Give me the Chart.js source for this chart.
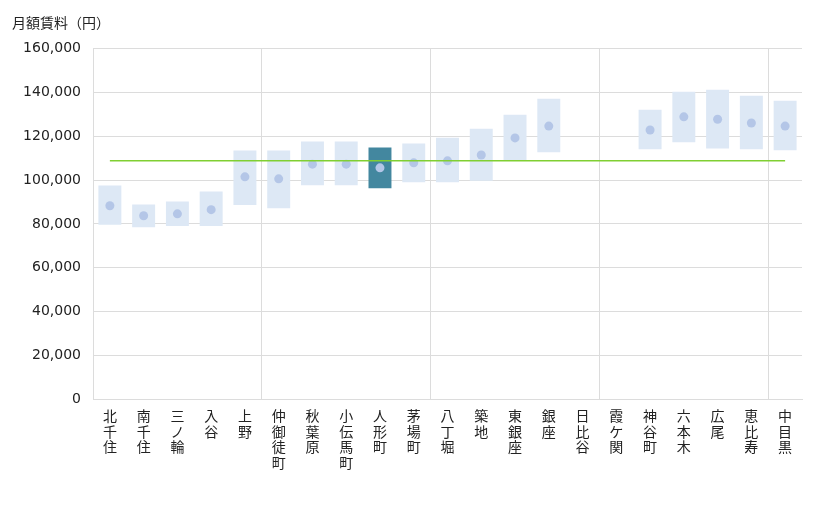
<!DOCTYPE html>
<html>
<head>
<meta charset="utf-8">
<script src="https://cdn.jsdelivr.net/npm/chart.js@4"></script>
<style>
    html, body { margin: 0; padding: 0; background: #fff; }
    #wrap { width: 820px; height: 510px; position: relative; }
</style>
</head>
<body>
<div id="wrap"><canvas id="rentChart"></canvas></div>
<script>

/// DATA ///

const stations = ['北千住', '南千住', '三ノ輪', '入谷', '上野', '仲御徒町', '秋葉原', '小伝馬町', '人形町', '茅場町',
    '八丁堀', '築地', '東銀座', '銀座', '日比谷', '霞ケ関', '神谷町', '六本木', '広尾', '恵比寿', '中目黒'];

// range of rents per station (low / high), null = no data
const rentLow  = [79600, 78500, 79000, 79000, 88600, 87200, 97700, 97700, 96300, 99000,
    99000, 99700, 108900, 112700, null, null, 114100, 117300, 114500, 114100, 113600];
const rentHigh = [97500, 88900, 90200, 94800, 113500, 113500, 117600, 117600, 114900, 116700,
    119400, 123500, 129900, 137200, null, null, 132200, 140400, 141300, 138600, 136300];
// average rent per station (dots)
const rentAvg  = [88300, 83700, 84600, 86500, 101500, 100600, 107300, 107300, 105600, 107900,
    108800, 111500, 119300, 124700, null, null, 122900, 128900, 127800, 126100, 124700];

// overall average (green line)
const overallAvg = 108800;

const highlightStation = '人形町';

const yTicks = [0, 20000, 40000, 60000, 80000, 100000, 120000, 140000, 160000];


/// CHART ///

const fontFamily = '"DejaVu Sans", "Noto Sans CJK JP", sans-serif';
const textColor = '#222';
const gridColor = '#dcdcdc';

const ranges = stations.map((s, i) => rentLow[i] === null ? null : [rentLow[i], rentHigh[i]]);
const barColors = stations.map(s => s === highlightStation ? '#43879f' : '#dde8f5');
const avgLine = stations.map(() => overallAvg);

const ctx = document.getElementById('rentChart').getContext('2d');

const config = {
    type: 'bar',
    data: {
        // each character on its own line -> vertical text
        labels: stations.map(s => s.split('')),
        datasets: [
            {
                type: 'line',
                label: '平均',
                data: avgLine,
                borderColor: '#80cf32',
                borderWidth: 1.5,
                pointRadius: 0,
                fill: false,
                order: 1
            },
            {
                type: 'line',
                label: '平均賃料',
                data: rentAvg,
                showLine: false,
                pointRadius: 4.5,
                pointBackgroundColor: '#b4c6e7',
                pointBorderWidth: 0,
                order: 2
            },
            {
                label: '賃料',
                data: ranges,
                backgroundColor: barColors,
                barPercentage: 0.68,
                categoryPercentage: 1.0,
                order: 3
            }
        ]
    },
    options: {
        responsive: true,
        maintainAspectRatio: false,
        animation: false,
        layout: {
            padding: { left: 12, right: 18, top: 0, bottom: 0 }
        },
        scales: {
            x: {
                grid: {
                    offset: true,
                    color: c => (c.index % 5 === 0 ? gridColor : 'rgba(0,0,0,0)'),
                    drawTicks: false
                },
                border: { color: gridColor },
                ticks: {
                    color: textColor,
                    font: { family: fontFamily, size: 14, lineHeight: 1.1 },
                    maxRotation: 0,
                    minRotation: 0,
                    autoSkip: false,
                    padding: 11
                },
                afterFit: scale => { scale.height = 111; }
            },
            y: {
                min: 0,
                max: 160000,
                afterBuildTicks: scale => { scale.ticks = yTicks.map(v => ({ value: v })); },
                grid: { color: gridColor, drawTicks: false },
                border: { color: gridColor },
                ticks: {
                    color: textColor,
                    font: { family: fontFamily, size: 14 },
                    padding: 12,
                    callback: v => v.toLocaleString('en-US')
                },
                afterFit: scale => { scale.width = 81; }
            }
        },
        plugins: {
            legend: { display: false },
            tooltip: { enabled: false },
            title: {
                display: true,
                text: '月額賃料（円）',
                align: 'start',
                color: textColor,
                font: { family: fontFamily, size: 14, weight: 'normal' },
                padding: { top: 16, bottom: 16 }
            }
        }
    }
};

const rentChart = new Chart(ctx, config);
</script>
</body>
</html>
